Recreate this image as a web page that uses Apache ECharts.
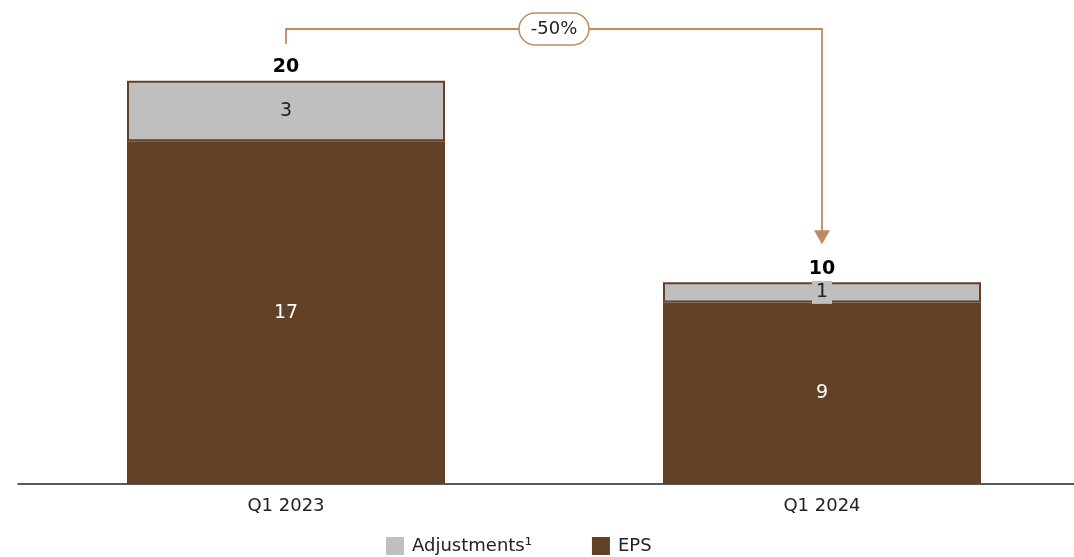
<!DOCTYPE html>
<html>
<head>
<meta charset="utf-8">
<script src="https://cdn.jsdelivr.net/npm/echarts@6/dist/echarts.min.js"></script>
<style>
  html, body { margin: 0; padding: 0; background: #fff; }
  #chart { width: 1074px; height: 557px; }
</style>
</head>
<body>
<div id="chart"></div>
<script>
// Quarterly EPS with adjustments
const categories = ['Q1 2023', 'Q1 2024'];
const epsValues = [17, 9];
const adjustmentValues = [3, 1];
const totals = [20, 10];
const changeLabel = '-50%';

const BROWN = '#634127';
const GRAY = '#BFBFBF';
const TAN = '#C08A5E';
const FONT = '"DejaVu Sans", "Noto Sans", sans-serif';

const chart = echarts.init(document.getElementById('chart'));

const option = {
  animation: false,
  textStyle: { fontFamily: FONT },
  grid: { left: 18, right: -16, top: 0, bottom: 73, containLabel: false, outerBoundsMode: 'none' },
  legend: {
    data: ['Adjustments¹', 'EPS'],
    bottom: -3,
    left: 381,
    itemWidth: 18,
    itemHeight: 18,
    itemGap: 60,
    icon: 'rect',
    itemStyle: { borderWidth: 0 },
    textStyle: { fontSize: 18, color: '#222', fontFamily: FONT, padding: [0, 0, 0, 3] }
  },
  xAxis: {
    type: 'category',
    data: categories,
    axisLine: { lineStyle: { color: '#222', width: 1.5 } },
    axisTick: { show: false },
    axisLabel: { fontSize: 18, color: '#222', margin: 13, fontFamily: FONT }
  },
  yAxis: {
    type: 'value',
    min: 0,
    max: 24,
    show: false,
    splitLine: { show: false }
  },
  series: [
    {
      name: 'EPS',
      type: 'bar',
      stack: 'total',
      barWidth: 318,
      data: epsValues,
      itemStyle: { color: BROWN },
      label: {
        show: true,
        position: 'inside',
        color: '#fff',
        fontSize: 19,
        fontFamily: FONT
      }
    },
    {
      name: 'Adjustments¹',
      type: 'bar',
      stack: 'total',
      data: adjustmentValues,
      itemStyle: { color: GRAY, borderColor: BROWN, borderWidth: 2 },
      label: {
        show: true,
        position: 'inside',
        color: '#222',
        fontSize: 19,
        fontFamily: FONT,
        backgroundColor: GRAY,
        padding: [2, 4]
      }
    },
    {
      name: 'Total',
      type: 'bar',
      stack: 'total',
      data: totals.map(() => 0),
      itemStyle: { color: 'transparent' },
      label: {
        show: true,
        position: 'top',
        distance: 4,
        color: '#000',
        fontSize: 19,
        fontWeight: 'bold',
        fontFamily: FONT,
        formatter: p => String(totals[p.dataIndex])
      }
    }
  ]
};

chart.setOption(option);

// Bracket arrow connecting the two totals with the percentage change
const p1 = chart.convertToPixel({ gridIndex: 0 }, [0, totals[0]]);
const p2 = chart.convertToPixel({ gridIndex: 0 }, [1, totals[1]]);
const bracketY = 29;
const startY = p1[1] - 37;
const tipY = p2[1] - 38;
const midX = (p1[0] + p2[0]) / 2;

chart.setOption({
  graphic: [
    {
      type: 'polyline',
      shape: { points: [[p1[0], startY], [p1[0], bracketY], [p2[0], bracketY], [p2[0], tipY - 12]] },
      style: { stroke: TAN, lineWidth: 1.8, fill: null },
      z: 10
    },
    {
      type: 'polygon',
      shape: { points: [[p2[0] - 8, tipY - 14], [p2[0] + 8, tipY - 14], [p2[0], tipY]] },
      style: { fill: TAN },
      z: 10
    },
    {
      type: 'rect',
      shape: { x: midX - 35, y: bracketY - 16, width: 70, height: 32, r: 16 },
      style: { fill: '#fff', stroke: TAN, lineWidth: 1.5 },
      z: 11
    },
    {
      type: 'text',
      x: midX,
      y: bracketY,
      style: {
        text: changeLabel,
        fill: '#222',
        font: '18px ' + FONT,
        align: 'center',
        verticalAlign: 'middle'
      },
      z: 12
    }
  ]
});
</script>
</body>
</html>
